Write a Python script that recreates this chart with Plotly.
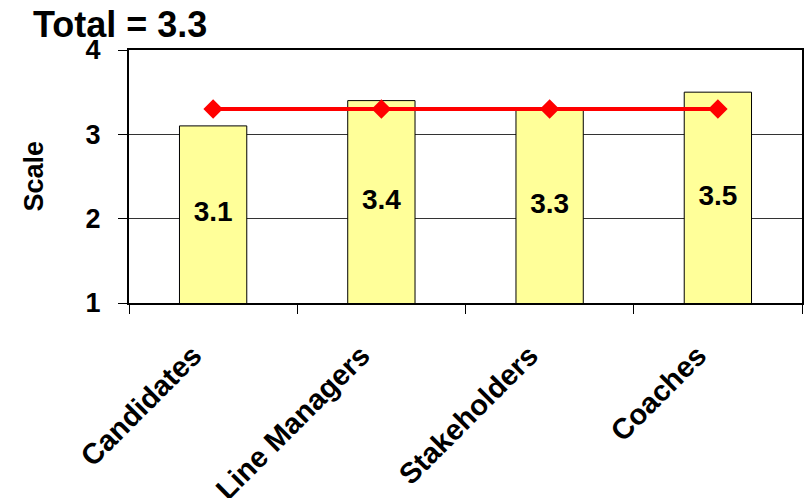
import plotly.graph_objects as go

categories = ["Candidates", "Line Managers", "Stakeholders", "Coaches"]
values = [3.1, 3.4, 3.3, 3.5]
total = 3.3
y_ticks = [1, 2, 3, 4]

FONT = "Liberation Sans, Arial, sans-serif"

fig = go.Figure()
fig.add_trace(go.Bar(
    x=categories, y=values, width=0.4,
    marker=dict(color="#FFFF99", line=dict(color="black", width=1)),
    showlegend=False, hoverinfo="x+y",
))
fig.add_trace(go.Scatter(
    x=categories, y=[total] * len(categories), mode="lines+markers",
    line=dict(color="#FF0000", width=4),
    marker=dict(symbol="diamond", size=15, color="#FF0000"),
    showlegend=False,
))
fig.add_trace(go.Scatter(
    x=categories, y=[(v + y_ticks[0]) / 2 for v in values], mode="text",
    text=[f"{v:.1f}" for v in values], texttemplate="<b>%{text}</b>",
    textfont=dict(family=FONT, size=28, color="black"),
    textposition="middle center", showlegend=False, hoverinfo="skip",
))

fig.update_layout(
    width=804, height=498,
    margin=dict(l=129, r=2, t=50, b=195),
    paper_bgcolor="white", plot_bgcolor="white",
    font=dict(family=FONT, color="black"),
)
fig.update_xaxes(
    type="category", showgrid=False, automargin=False,
    tickvals=categories, ticktext=[f"<b>{c}</b>" for c in categories],
    showline=True, linecolor="black", linewidth=2, mirror=True,
    ticks="outside", tickson="boundaries", ticklen=9, tickcolor="black", tickwidth=1,
    tickangle=-45, ticklabelstandoff=22, ticklabelshift=-20,
    tickfont=dict(family=FONT, size=29, color="black"),
)
fig.update_yaxes(
    range=[1, 4], tickvals=y_ticks, ticktext=[f"<b>{t}</b>" for t in y_ticks],
    automargin=False,
    showgrid=True, gridcolor="#333333", gridwidth=1,
    showline=True, linecolor="black", linewidth=2, mirror=True,
    ticks="outside", ticklen=9, tickcolor="black", tickwidth=1,
    ticklabelstandoff=12,
    tickfont=dict(family=FONT, size=27, color="black"),
    zeroline=False,
)

fig.add_annotation(
    text="<b>Total = 3.3</b>", xref="paper", yref="paper",
    x=(31 - 129) / 673, y=1 + (50 - 25) / 253, xanchor="left", yanchor="middle",
    showarrow=False, font=dict(family=FONT, size=36, color="black"),
)
fig.add_annotation(
    text="<b>Scale</b>", xref="paper", yref="paper",
    x=(33 - 129) / 673, y=0.5, xanchor="center", yanchor="middle", textangle=-90,
    showarrow=False, font=dict(family=FONT, size=27, color="black"),
)

fig.write_html("out.html")
